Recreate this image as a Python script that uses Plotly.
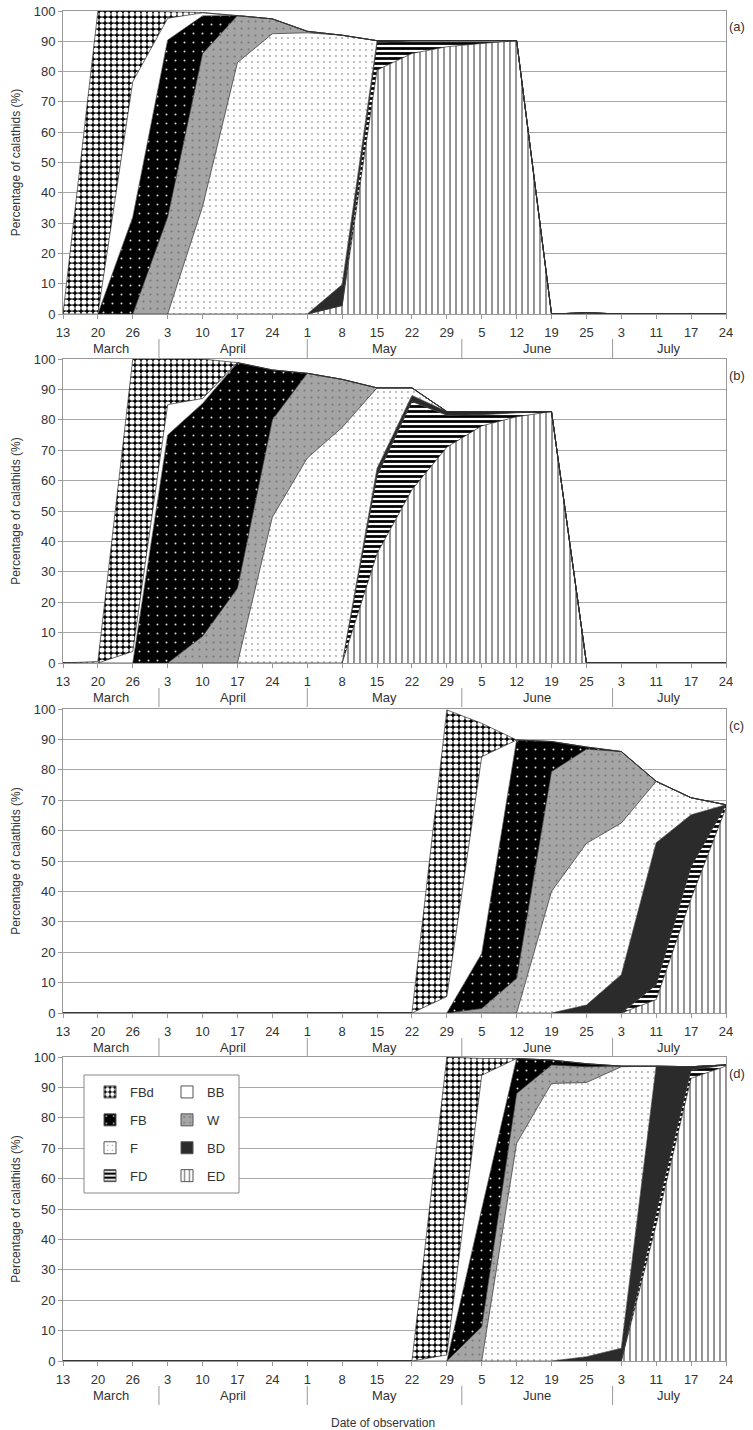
import plotly.graph_objects as go
import pandas as pd

# ---------------- data ----------------
OBS_DATES = ["03-13", "03-20", "03-26", "04-03", "04-10", "04-17", "04-24",
             "05-01", "05-08", "05-15", "05-22", "05-29", "06-05", "06-12",
             "06-19", "06-25", "07-03", "07-11", "07-17", "07-24"]
DAY_LABELS = ["13", "20", "26", "3", "10", "17", "24", "1", "8", "15", "22",
              "29", "5", "12", "19", "25", "3", "11", "17", "24"]
MONTH_NAMES = ["March", "April", "May", "June", "July"]
PANEL_LABELS = ["(a)", "(b)", "(c)", "(d)"]
STAGES = ["ED", "FD", "BD", "F", "W", "FB", "BB", "FBd"]   # bottom -> top of the stack

# panel (a)
A_FBD = [0, 100, 23.3, 2.2, 0.1, 0, 0, 0, 0, 0, 0, 0, 0, 0, 0, 0, 0, 0, 0, 0]
A_BB = [0, 0, 44.7, 7.2, 1.0, 0, 0, 0, 0, 0, 0, 0, 0, 0, 0, 0, 0, 0, 0, 0]
A_FB = [0, 0, 32, 58.4, 12.4, 0, 0, 0, 0, 0, 0, 0, 0, 0, 0, 0, 0, 0, 0, 0]
A_W = [0, 0, 0, 32, 50.5, 15.5, 4.9, 0.5, 0, 0, 0, 0, 0, 0, 0, 0, 0, 0, 0, 0]
A_F = [0, 0, 0, 0, 35.5, 83, 92.5, 92.8, 82.3, 0, 0, 0, 0, 0, 0, 0, 0, 0, 0, 0]
A_BD = [0, 0, 0, 0, 0, 0, 0, 0, 6.9, 0.7, 0, 0, 0, 0, 0, 0, 0, 0, 0, 0]
A_FD = [0, 0, 0, 0, 0, 0, 0, 0, 0, 9.0, 4.2, 2.0, 0.9, 0, 0, 0, 0, 0, 0, 0]
A_ED = [0, 0, 0, 0, 0, 0, 0, 0, 2.8, 80.5, 86, 88.2, 89.3, 90.2, 0, 0.4, 0, 0, 0, 0]

# panel (b)
B_FBD = [0, 0.5, 96.2, 15, 13, 0, 0, 0, 0, 0, 0, 0, 0, 0, 0, 0, 0, 0, 0, 0]
B_BB = [0, 0, 3.8, 10, 1.6, 0, 0, 0, 0, 0, 0, 0, 0, 0, 0, 0, 0, 0, 0, 0]
B_FB = [0, 0, 0, 75, 76.6, 74.2, 16.4, 0, 0, 0, 0, 0, 0, 0, 0, 0, 0, 0, 0, 0]
B_W = [0, 0, 0, 0, 8.8, 24.6, 32, 27.9, 15.8, 0, 0, 0, 0, 0, 0, 0, 0, 0, 0, 0]
B_F = [0, 0, 0, 0, 0, 0, 48, 67.4, 77.5, 26.5, 2.5, 0, 0, 0, 0, 0, 0, 0, 0, 0]
B_BD = [0, 0, 0, 0, 0, 0, 0, 0, 0, 2.5, 2, 1.2, 1, 0.4, 0, 0, 0, 0, 0, 0]
B_FD = [0, 0, 0, 0, 0, 0, 0, 0, 0, 25.5, 29, 10.5, 3.7, 1.3, 0, 0, 0, 0, 0, 0]
B_ED = [0, 0, 0, 0, 0, 0, 0, 0, 0, 36, 57, 71, 78, 81, 82.7, 0, 0, 0, 0, 0]

# panel (c)
C_FBD = [0, 0, 0, 0, 0, 0, 0, 0, 0, 0, 0, 94.3, 11, 0, 0, 0, 0, 0, 0, 0]
C_BB = [0, 0, 0, 0, 0, 0, 0, 0, 0, 0, 0, 5.4, 64.7, 0, 0, 0, 0, 0, 0, 0]
C_FB = [0, 0, 0, 0, 0, 0, 0, 0, 0, 0, 0, 0, 18.1, 78.4, 9.9, 0.7, 0, 0, 0, 0]
C_W = [0, 0, 0, 0, 0, 0, 0, 0, 0, 0, 0, 0, 1.5, 11.4, 39.4, 31, 23.5, 0, 0, 0]
C_F = [0, 0, 0, 0, 0, 0, 0, 0, 0, 0, 0, 0, 0, 0, 40, 53.2, 49.9, 20.2, 5.6, 0]
C_BD = [0, 0, 0, 0, 0, 0, 0, 0, 0, 0, 0, 0, 0, 0, 0, 2.6, 12.6, 46.7, 17, 0]
C_FD = [0, 0, 0, 0, 0, 0, 0, 0, 0, 0, 0, 0, 0, 0, 0, 0, 0, 4.9, 10.5, 1]
C_ED = [0, 0, 0, 0, 0, 0, 0, 0, 0, 0, 0, 0, 0, 0, 0, 0, 0, 4.4, 37.7, 67.5]

# panel (d)
D_FBD = [0, 0, 0, 0, 0, 0, 0, 0, 0, 0, 0, 98, 5.5, 0, 0, 0, 0, 0, 0, 0]
D_BB = [0, 0, 0, 0, 0, 0, 0, 0, 0, 0, 0, 2, 44, 0, 0, 0, 0, 0, 0, 0]
D_FB = [0, 0, 0, 0, 0, 0, 0, 0, 0, 0, 0, 0, 38.7, 11.5, 1.6, 1.0, 0, 0, 0, 0]
D_W = [0, 0, 0, 0, 0, 0, 0, 0, 0, 0, 0, 0, 11.3, 16.4, 6.1, 5.2, 0.2, 0, 0, 0]
D_F = [0, 0, 0, 0, 0, 0, 0, 0, 0, 0, 0, 0, 0, 71.6, 91.3, 90.2, 92.6, 0, 0, 0]
D_BD = [0, 0, 0, 0, 0, 0, 0, 0, 0, 0, 0, 0, 0, 0, 0, 1.4, 4.2, 48.2, 1.1, 0]
D_FD = [0, 0, 0, 0, 0, 0, 0, 0, 0, 0, 0, 0, 0, 0, 0, 0, 0, 4, 2.7, 0.4]
D_ED = [0, 0, 0, 0, 0, 0, 0, 0, 0, 0, 0, 0, 0, 0, 0, 0, 0, 44.8, 93, 97]

PANELS = [
    {"ED": A_ED, "FD": A_FD, "BD": A_BD, "F": A_F, "W": A_W, "FB": A_FB, "BB": A_BB, "FBd": A_FBD},
    {"ED": B_ED, "FD": B_FD, "BD": B_BD, "F": B_F, "W": B_W, "FB": B_FB, "BB": B_BB, "FBd": B_FBD},
    {"ED": C_ED, "FD": C_FD, "BD": C_BD, "F": C_F, "W": C_W, "FB": C_FB, "BB": C_BB, "FBd": C_FBD},
    {"ED": D_ED, "FD": D_FD, "BD": D_BD, "F": D_F, "W": D_W, "FB": D_FB, "BB": D_BB, "FBd": D_FBD},
]

# ---------------- styles ----------------
FONT = "Liberation Sans, Arial, sans-serif"
TXT = "#333333"
STYLE = {
    "FBd": dict(color="#000000", pattern=dict(shape=".", bgcolor="#000000", fgcolor="#ffffff", size=6, solidity=0.6)),
    "BB": dict(color="#ffffff", pattern=None),
    "FB": dict(color="#000000", pattern=dict(shape=".", bgcolor="#000000", fgcolor="#d8d8d8", size=9, solidity=0.04)),
    "W": dict(color="#a5a5a5", pattern=dict(shape=".", bgcolor="#a5a5a5", fgcolor="#777777", size=7, solidity=0.07)),
    "F": dict(color="#ffffff", pattern=dict(shape=".", bgcolor="#ffffff", fgcolor="#a8a8a8", size=6, solidity=0.08)),
    "BD": dict(color="#2b2b2b", pattern=None),
    "FD": dict(color="#000000", pattern=dict(shape="-", bgcolor="#ffffff", fgcolor="#000000", size=5, solidity=0.55)),
    "ED": dict(color="#ffffff", pattern=dict(shape="|", bgcolor="#ffffff", fgcolor="#8a8a8a", size=6, solidity=0.3)),
}
LEGEND_COL1 = ["FBd", "FB", "F", "FD"]
LEGEND_COL2 = ["BB", "W", "BD", "ED"]

W_PX, H_PX = 753, 1430
X_LEFT, X_RIGHT = 63, 726
PANEL_PX = [(11, 314), (359, 663), (709, 1013), (1057, 1361)]   # top, bottom of each plot area

fig = go.Figure()

for i, panel in enumerate(PANELS):
    n = "" if i == 0 else str(i + 1)
    for st in STAGES:
        s = STYLE[st]
        kw = dict(fillcolor=s["color"])
        if s["pattern"] is not None:
            kw["fillpattern"] = s["pattern"]
        fig.add_trace(go.Scatter(
            x=OBS_DATES, y=panel[st], name=st, stackgroup="p" + str(i),
            mode="lines", line=dict(color="#303030", width=0.7),
            xaxis="x" + n, yaxis="y" + n, showlegend=False, hoverinfo="skip", **kw))

# legend entries (two columns) as empty bars carrying the same fills
for st in LEGEND_COL1 + LEGEND_COL2:
    s = STYLE[st]
    marker = dict(color=s["color"], line=dict(color="#555555", width=1))
    if s["pattern"] is not None:
        marker["pattern"] = s["pattern"]
    fig.add_trace(go.Bar(x=[None], y=[None], name=st, marker=marker,
                         xaxis="x4", yaxis="y4", legendgroup=st,
                         legend="legend" if st in LEGEND_COL1 else "legend2",
                         showlegend=True, hoverinfo="skip"))

# month boundaries (fractional category positions) from real dates
dates = pd.to_datetime(["2009-" + d for d in OBS_DATES])
bounds = []
for m in [4, 5, 6, 7]:
    b = pd.Timestamp(year=2009, month=m, day=1)
    for k in range(len(dates) - 1):
        if dates[k] <= b <= dates[k + 1]:
            bounds.append(k + (b - dates[k]).days / (dates[k + 1] - dates[k]).days)
            break
edges = [0] + bounds + [len(OBS_DATES) - 1]
month_centers = [(edges[k] + edges[k + 1]) / 2 for k in range(len(MONTH_NAMES))]

annotations = []
shapes = []
layout = dict(
    template="none",
    width=W_PX, height=H_PX, margin=dict(l=0, r=0, t=0, b=0, autoexpand=False),
    paper_bgcolor="white", plot_bgcolor="white",
    font=dict(family=FONT, size=13, color=TXT),
)
for i, (top, bot) in enumerate(PANEL_PX):
    n = "" if i == 0 else str(i + 1)
    hpx = bot - top
    layout["xaxis" + n] = dict(
        domain=[X_LEFT / W_PX, X_RIGHT / W_PX], anchor="y" + n, automargin=False,
        type="category", categoryorder="array", categoryarray=OBS_DATES,
        range=[0, len(OBS_DATES) - 1], tickmode="array", tickvals=OBS_DATES,
        ticktext=DAY_LABELS, ticks="outside", ticklen=4, tickcolor="#999999",
        showline=True, linecolor="#999999", linewidth=1, mirror=True, showgrid=False,
        zeroline=False, tickfont=dict(size=13, color=TXT), ticklabelstandoff=2,
        fixedrange=True)
    layout["yaxis" + n] = dict(
        domain=[1 - bot / H_PX, 1 - top / H_PX], anchor="x" + n, automargin=False,
        range=[0, 100], dtick=10, tick0=0, ticks="outside", ticklen=4, tickcolor="#999999",
        showline=True, linecolor="#999999", linewidth=1, mirror=True, showgrid=True,
        gridcolor="#a8a8a8", gridwidth=1, zeroline=False,
        tickfont=dict(size=13, color=TXT),
        title=dict(text="Percentage of calathids (%)", font=dict(size=12, color=TXT), standoff=10),
        fixedrange=True)
    for name, cx in zip(MONTH_NAMES, month_centers):
        annotations.append(dict(x=cx, xref="x" + n, y=-34 / hpx, yref="y" + n + " domain",
                                text=name, showarrow=False, yanchor="middle",
                                font=dict(size=13, color=TXT)))
    for bx in bounds:
        shapes.append(dict(type="line", xref="x" + n, yref="y" + n + " domain",
                           x0=bx, x1=bx, y0=-25 / hpx, y1=-44 / hpx,
                           line=dict(color="#999999", width=1)))
    annotations.append(dict(x=1, xref="x" + n + " domain", xshift=1, xanchor="left",
                            y=1 - 16 / hpx, yref="y" + n + " domain", yanchor="middle",
                            text=PANEL_LABELS[i], showarrow=False,
                            font=dict(size=13, color=TXT)))

annotations.append(dict(x=383 / W_PX, xref="paper", y=1 - 1423 / H_PX, yref="paper",
                        text="Date of observation", showarrow=False, yanchor="middle",
                        font=dict(size=12, color=TXT)))

# legend frame
shapes.append(dict(type="rect", xref="paper", yref="paper", layer="above",
                   x0=84 / W_PX, x1=239 / W_PX, y0=1 - 1193 / H_PX, y1=1 - 1075 / H_PX,
                   line=dict(color="#888888", width=1), fillcolor="white"))

leg_common = dict(bgcolor="rgba(0,0,0,0)", borderwidth=0, font=dict(size=13, color=TXT),
                  traceorder="grouped", tracegroupgap=8, xanchor="left", yanchor="top",
                  y=1 - 1077 / H_PX)
layout["legend"] = dict(x=90 / W_PX, **leg_common)
layout["legend2"] = dict(x=167 / W_PX, **leg_common)
layout["annotations"] = annotations
layout["shapes"] = shapes
layout["showlegend"] = True

fig.update_layout(**layout)
fig.write_html("out.html", config={"displayModeBar": False},
               post_script="document.body.style.margin='0px';")
